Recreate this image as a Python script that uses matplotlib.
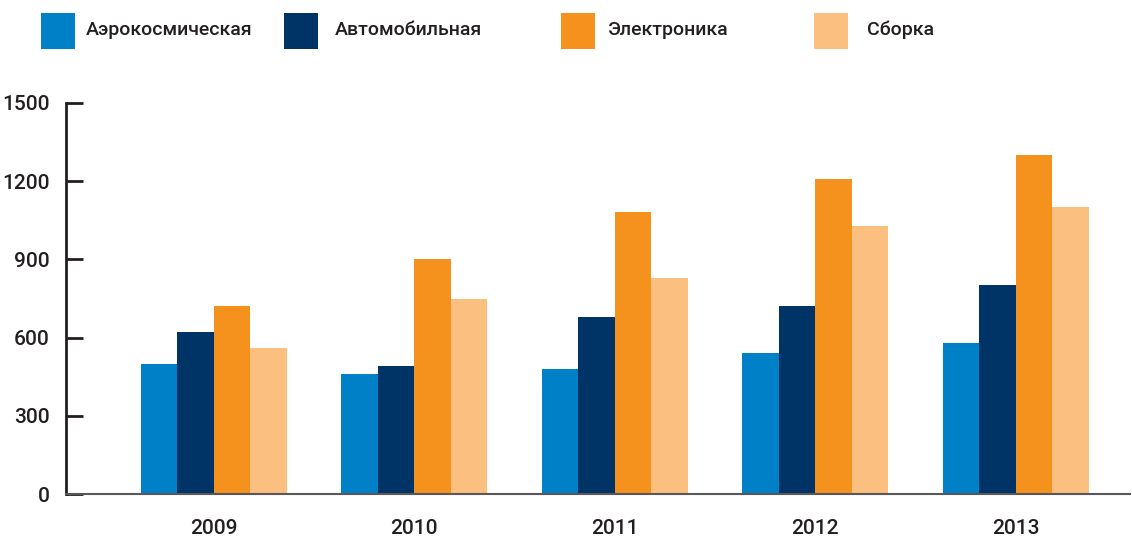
import numpy as np
import matplotlib
matplotlib.use('Agg')
import matplotlib.pyplot as plt
from matplotlib.patches import Rectangle

plt.rcParams['font.family'] = ['Roboto', 'DejaVu Sans']
plt.rcParams['font.weight'] = 'medium'

years = ['2009', '2010', '2011', '2012', '2013']
series = ['Аэрокосмическая', 'Автомобильная', 'Электроника', 'Сборка']
aero = [500, 460, 480, 540, 580]
auto = [620, 490, 680, 720, 800]
electronics = [720, 900, 1080, 1210, 1300]
assembly = [560, 750, 830, 1030, 1100]
colors = ['#0080c6', '#003466', '#f5921e', '#fbbf7f']
yticks = [0, 300, 600, 900, 1200, 1500]

text_col = '#231f20'

fig = plt.figure(figsize=(11.32, 5.38), dpi=100)
ax = fig.add_axes([66/1132, 1-494/538, (1130-66)/1132, (494-103)/538])

x = np.arange(len(years))
w = 0.182
for i, vals in enumerate([aero, auto, electronics, assembly]):
    ax.bar(x + (i - 1.5)*w, vals, width=w, color=colors[i], linewidth=0, zorder=2)

ax.set_xlim(-0.736, 4.57)
ax.set_ylim(0, 1500)
ax.set_yticks(yticks)
ax.set_yticklabels([str(v) for v in yticks], fontsize=15, color=text_col)
ax.set_xticks(x)
ax.set_xticklabels(years, fontsize=15, color=text_col)

for s in ['top', 'right']:
    ax.spines[s].set_visible(False)
ax.spines['left'].set_linewidth(2)
ax.spines['left'].set_color('#231f20')
ax.spines['bottom'].set_linewidth(1.5)
ax.spines['bottom'].set_color('#58585a')
ax.spines['bottom'].set_zorder(3)

ax.tick_params(axis='y', direction='in', length=12, width=2, color='#231f20', pad=12)
ax.tick_params(axis='x', length=0, pad=18)

# legend drawn across the top
sq_x = [41, 284, 561, 814]
txt_x = [86, 335, 608, 867]
for i, name in enumerate(series):
    fig.patches.append(Rectangle((sq_x[i]/1132, 1-49/538), 34/1132, 36/538,
                                 transform=fig.transFigure, color=colors[i], linewidth=0))
    fig.text(txt_x[i]/1132, 1-30/538, name, fontsize=14, color=text_col, va='center', ha='left')

fig.savefig('out.png', dpi=100)
